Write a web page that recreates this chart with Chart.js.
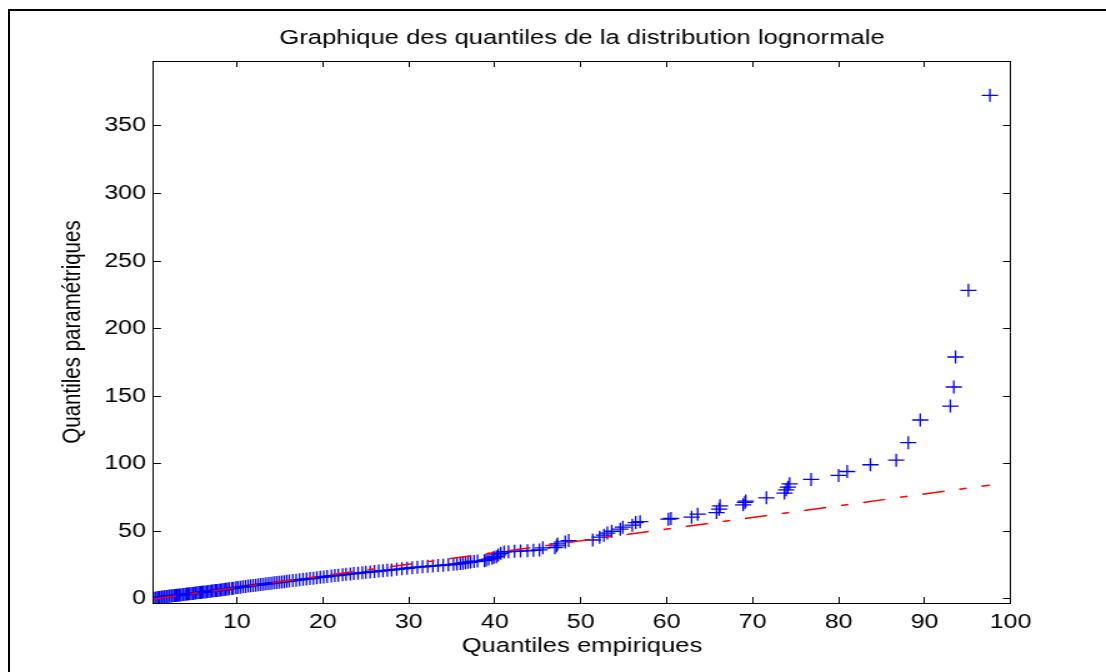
<!DOCTYPE html>
<html><head><meta charset="utf-8">
<script src="https://cdn.jsdelivr.net/npm/chart.js@4"></script>
<style>
html,body{margin:0;padding:0;background:#fff;overflow:hidden;width:1106px;height:672px;}
#frame{position:absolute;left:8px;top:9px;width:1300px;height:900px;border:2px solid #000;box-sizing:border-box;}
#wrap{position:absolute;left:0;top:0;width:885px;height:672px;transform:scaleX(1.2497);transform-origin:0 0;}
canvas{display:block;}
</style></head><body>
<div id="frame"></div>
<div id="wrap"><canvas id="c" width="885" height="672"></canvas></div>
<script>
const chartTitle = "Graphique des quantiles de la distribution lognormale";
const xTitle = "Quantiles empiriques";
const yTitle = "Quantiles paramétriques";

const xTickValues = [10, 20, 30, 40, 50, 60, 70, 80, 90, 100];
const yTickValues = [0, 50, 100, 150, 200, 250, 300, 350];

const empiricalQuantiles = [
  0.3,0.5,0.6,0.8,0.9,1.0,1.2,1.3,1.5,1.6,
  1.8,1.9,2.1,2.2,2.4,2.5,2.7,2.9,3.0,3.2,
  3.3,3.5,3.7,3.8,4.0,4.2,4.3,4.5,4.7,4.9,
  5.0,5.2,5.4,5.6,5.8,5.9,6.1,6.3,6.5,6.7,
  6.9,7.1,7.3,7.5,7.7,7.9,8.1,8.3,8.5,8.7,
  8.9,9.1,9.4,9.6,9.9,
  10.1,10.4,10.7,11.0,11.3,11.6,11.9,12.2,12.5,12.8,
  13.1,13.4,13.7,14.0,14.3,14.6,14.9,15.2,15.5,15.8,
  16.1,16.5,16.9,17.3,17.7,18.1,18.5,18.9,19.3,19.7,
  20.1,20.5,21.0,21.4,21.8,22.3,22.7,23.2,23.6,24.1,
  24.6,25.0,25.5,26.0,26.5,27.0,27.5,28.0,28.6,29.2,
  29.8,30.4,31.0,31.6,32.2,32.8,33.4,34.0,34.6,35.2,
  35.6,36.0,36.3,36.6,36.9,37.2,37.6,38.0,
  38.8,39.0,39.3,39.7,39.9,40.2,40.4,40.7,41.1,
  41.6,42.3,43.0,43.8,44.5,45.2,45.6,47.0,47.2,47.3,48.2,48.6,
  51.4,52.2,52.7,53.1,53.6,54.6,54.9,56.0,56.4,56.9,
  60.2,60.5,62.9,63.6,65.8,66.1,66.2,68.9,69.1,69.2,
  71.6,73.7,73.9,74.1,74.3,76.8,80.0,81.0,83.7,86.7,
  88.1,89.5,93.0,93.4,93.6,95.1,97.6
];
const parametricQuantiles = [
  0.4,0.6,0.7,0.9,1.0,1.1,1.3,1.4,1.5,1.6,
  1.8,1.9,2.0,2.1,2.2,2.3,2.5,2.6,2.7,2.8,
  2.9,3.0,3.2,3.3,3.4,3.6,3.7,3.8,4.0,4.1,
  4.2,4.4,4.5,4.7,4.8,4.9,5.1,5.2,5.4,5.5,
  5.7,5.8,6.0,6.2,6.3,6.5,6.7,6.8,7.0,7.2,
  7.4,7.6,7.8,8.0,8.3,
  8.5,8.7,9.0,9.2,9.5,9.7,10.0,10.2,10.5,10.7,
  10.9,11.2,11.4,11.6,11.9,12.1,12.3,12.6,12.8,13.0,
  13.3,13.6,13.9,14.2,14.5,14.8,15.1,15.4,15.7,16.0,
  16.3,16.6,17.0,17.3,17.6,17.9,18.2,18.5,18.8,19.1,
  19.4,19.7,20.0,20.3,20.6,20.9,21.2,21.5,21.9,22.3,
  22.7,23.1,23.5,23.8,24.1,24.4,24.7,25.0,25.3,25.6,
  25.9,26.2,26.5,26.8,27.1,27.4,27.7,28.0,
  28.3,28.9,29.5,30.1,30.9,31.3,32.6,33.8,34.8,
  35.0,35.2,35.4,35.6,36.0,36.3,37.8,37.9,39.3,40.7,42.2,43.2,
  43.6,45.7,47.2,48.7,50.1,51.6,53.1,54.6,56.5,57.2,
  59.0,59.5,60.5,62.7,63.9,66.4,68.9,69.6,71.4,72.4,
  74.8,78.3,80.7,82.7,85.2,88.4,91.4,94.3,99.3,102.7,
  115.6,132.4,142.7,156.8,179.0,228.3,372.6
];

const refLineX = [0.3, 97.6];
const refLineY = [0.0, 84.2];

const X_MIN = 0.3, X_MAX = 100, Y_MIN = -3, Y_MAX = 398;

const FONT = 'Liberation Sans, Arial, Helvetica, sans-serif';
const qqPoints = empiricalQuantiles.map((x, i) => ({x: x, y: parametricQuantiles[i]}));
const refPoints = refLineX.map((x, i) => ({x: x, y: refLineY[i]}));

const gridOpts = {drawOnChartArea: false, drawTicks: true, tickLength: -6, color: '#000', lineWidth: 1};
const borderOpts = {display: true, color: '#000', width: 1};

new Chart(document.getElementById('c'), {
  type: 'scatter',
  data: {
    datasets: [
      {
        label: 'ref',
        data: refPoints,
        showLine: true,
        borderColor: '#ff0000',
        borderWidth: 1.5,
        borderDash: [18, 12, 6, 12],
        pointRadius: 0,
        fill: false
      },
      {
        label: 'qq',
        data: qqPoints,
        pointStyle: 'cross',
        pointRadius: 6.5,
        borderWidth: 1.3,
        borderColor: '#0000ff',
        backgroundColor: '#0000ff'
      }
    ]
  },
  options: {
    responsive: false,
    devicePixelRatio: 1,
    animation: false,
    events: [],
    layout: {padding: {left: 0, right: 76.4, top: 0, bottom: 0}},
    plugins: {
      legend: {display: false},
      tooltip: {enabled: false},
      title: {
        display: true, text: chartTitle, color: '#000', fullSize: false,
        font: {family: FONT, size: 20.5, weight: 'normal'},
        padding: {top: 26, bottom: 10.4}
      }
    },
    scales: {
      x: {
        type: 'linear', position: 'bottom', min: X_MIN, max: X_MAX,
        afterBuildTicks: s => { s.ticks = xTickValues.map(v => ({value: v})); },
        afterFit: s => { s.height = 69; },
        ticks: {color: '#000', font: {family: FONT, size: 20}, padding: 13, maxRotation: 0, autoSkip: false},
        grid: gridOpts, border: borderOpts,
        title: {display: true, text: xTitle, color: '#000', font: {family: FONT, size: 20.5}, padding: {top: 0, bottom: 13}}
      },
      x2: {
        type: 'linear', position: 'top', min: X_MIN, max: X_MAX,
        afterBuildTicks: s => { s.ticks = xTickValues.map(v => ({value: v})); },
        afterFit: s => { s.height = 0; },
        ticks: {display: false},
        grid: gridOpts, border: borderOpts
      },
      y: {
        type: 'linear', position: 'left', min: Y_MIN, max: Y_MAX,
        afterBuildTicks: s => { s.ticks = yTickValues.map(v => ({value: v})); },
        afterFit: s => { s.width = 122.8; },
        ticks: {color: '#000', font: {family: FONT, size: 20}, padding: 12, autoSkip: false},
        grid: gridOpts, border: borderOpts,
        title: {display: true, text: yTitle, color: '#000', font: {family: FONT, size: 20.5}, padding: {top: 45.7, bottom: 0}}
      },
      y2: {
        type: 'linear', position: 'right', min: Y_MIN, max: Y_MAX,
        afterBuildTicks: s => { s.ticks = yTickValues.map(v => ({value: v})); },
        afterFit: s => { s.width = 0; },
        ticks: {display: false},
        grid: gridOpts, border: borderOpts
      }
    }
  }
});
</script>
</body></html>
